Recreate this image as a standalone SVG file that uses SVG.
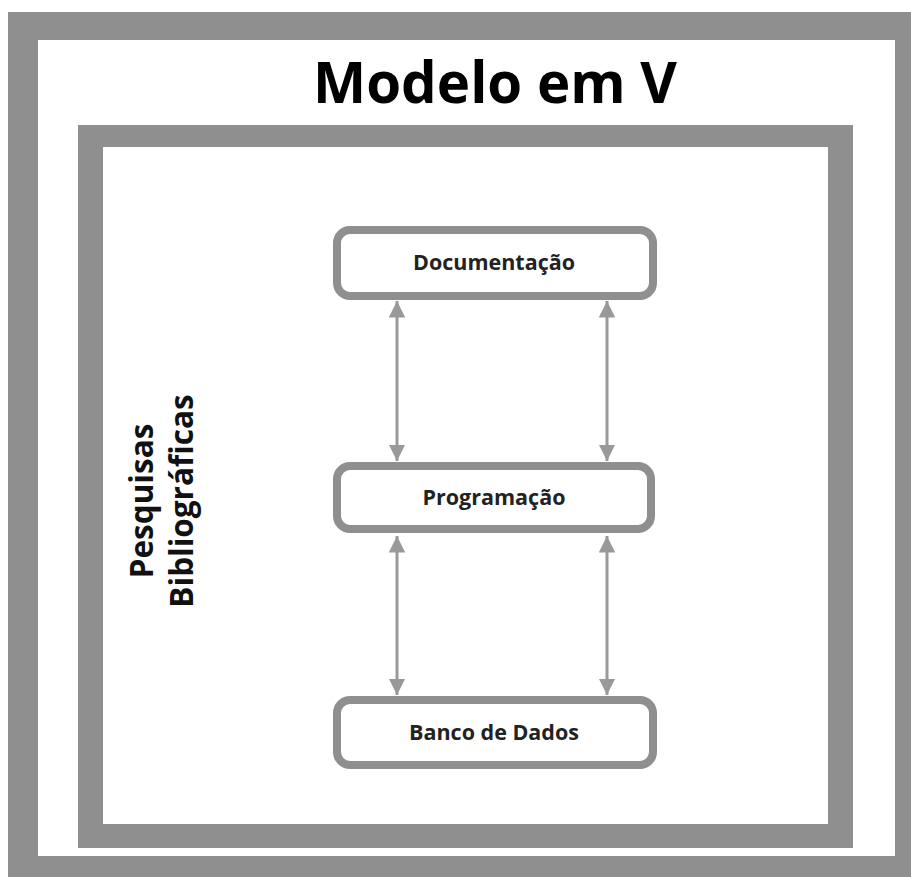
<svg xmlns="http://www.w3.org/2000/svg" width="911" height="877" viewBox="0 0 911 877">
<style>
.frame{fill:#8f8f8f;fill-rule:evenodd}
.box{fill:#fff;stroke:#8f8f8f;stroke-width:8}
.lbl{font-family:"Open Sans","Liberation Sans",sans-serif;font-weight:700;font-size:21.5px;fill:#222;text-anchor:middle}
.side{font-family:"Open Sans","Liberation Sans",sans-serif;font-weight:700;font-size:31.5px;fill:#111;text-anchor:middle}
.title{font-family:"Open Sans","Liberation Sans",sans-serif;font-weight:700;font-size:57px;fill:#000;text-anchor:middle}
.conn{stroke:#999;stroke-width:3;fill:none;marker-start:url(#ah);marker-end:url(#ah)}
</style>
<defs>
<marker id="ah" viewBox="0 0 10 10" refX="10" refY="5" markerWidth="5.5" markerHeight="5.5" orient="auto-start-reverse" markerUnits="strokeWidth">
<path d="M0,0 L10,5 L0,10 z" fill="#999"/>
</marker>
</defs>
<rect width="911" height="877" fill="#fff"/>
<g id="outer-frame">
<path class="frame" d="M8,12 H911 V877 H8 Z M38,40 V856 H895 V40 Z"/>
<text class="title" x="495" y="103" textLength="364" lengthAdjust="spacingAndGlyphs">Modelo em V</text>
</g>
<g id="inner-frame">
<path class="frame" d="M78,125 H853 V848 H78 Z M103,147 V824 H828 V147 Z"/>
</g>
<g id="pesquisas">
<text class="side" transform="translate(153,501) rotate(-90)">Pesquisas</text>
<text class="side" transform="translate(193,501) rotate(-90)">Bibliográficas</text>
</g>
<g id="connectors">
<line class="conn" x1="397" y1="301" x2="397" y2="461"/>
<line class="conn" x1="607" y1="301" x2="607" y2="461"/>
<line class="conn" x1="397" y1="536" x2="397" y2="695"/>
<line class="conn" x1="607" y1="536" x2="607" y2="695"/>
</g>
<g id="documentacao">
<rect class="box" x="337" y="230" width="316" height="66" rx="13"/>
<text class="lbl" x="494" y="270">Documentação</text>
</g>
<g id="programacao">
<rect class="box" x="337" y="466" width="314" height="63" rx="13"/>
<text class="lbl" x="494" y="505">Programação</text>
</g>
<g id="banco">
<rect class="box" x="337" y="700" width="316" height="65" rx="13"/>
<text class="lbl" x="494" y="740">Banco de Dados</text>
</g>
</svg>
